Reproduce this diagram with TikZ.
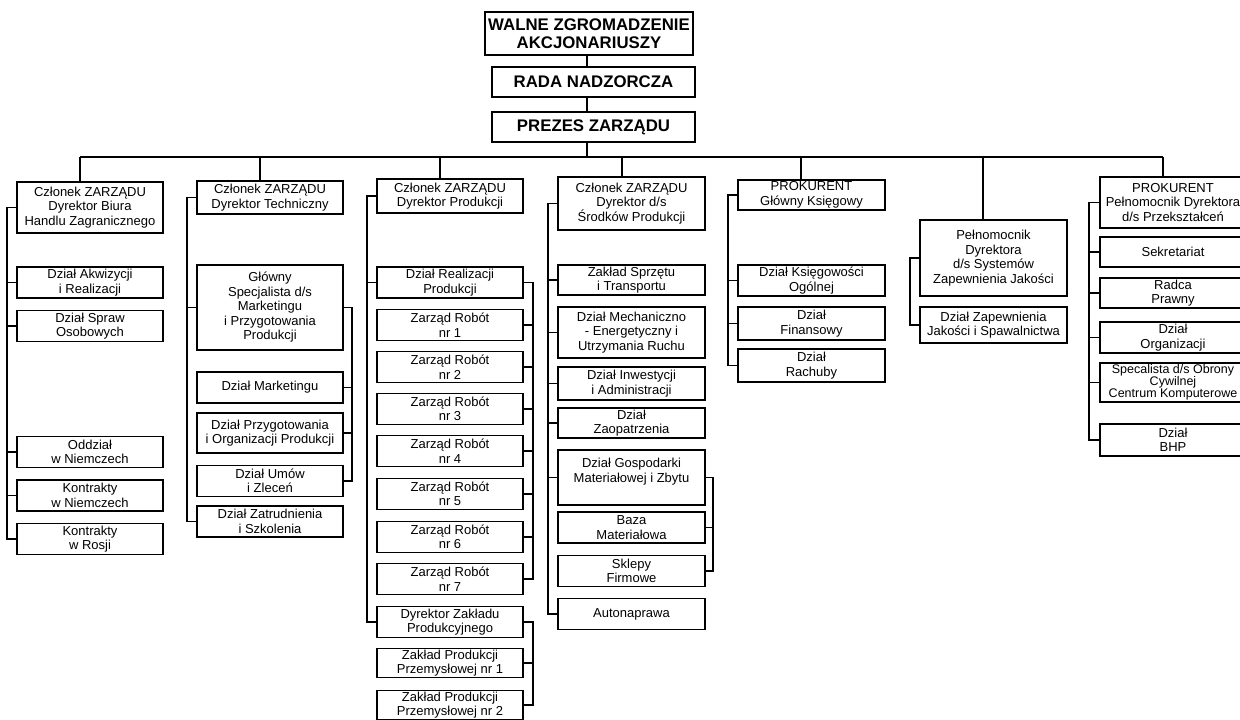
\documentclass[tikz,border=0pt]{standalone}
\usepackage{fontspec}
\setmainfont{Liberation Sans}

\begin{document}
\begin{tikzpicture}[x=1pt, y=-1pt,
    box/.style={rectangle, draw, line width=1.2pt, minimum width=146pt,
                minimum height=31pt, inner sep=1pt, align=center,
                font=\fontsize{13}{14.5}\selectfont},
    topbox/.style={rectangle, draw, line width=1.4pt, inner sep=1pt,
                   align=center, font=\bfseries\fontsize{16.8}{18}\selectfont},
    link/.style={line width=1.1pt}
  ]
    \useasboundingbox (0,0) rectangle (1240,720);
    \clip (0,0) rectangle (1240,720);

    % Board
    \node[topbox, minimum width=208pt, minimum height=43pt] (walne) at (589,33.5)
      {WALNE ZGROMADZENIE\\AKCJONARIUSZY};
    \node[topbox, minimum width=203pt, minimum height=30pt] (rada) at (593.5,82)
      {RADA NADZORCZA};
    \node[topbox, line width=2.2pt, minimum width=203pt, minimum height=30pt] (prezes) at (593.5,127)
      {PREZES ZARZĄDU};

    % Bus and its stems
    \coordinate (bus) at (587,157);
    \coordinate (b1) at (80,157);
    \coordinate (b2) at (260,157);
    \coordinate (b3) at (440,157);
    \coordinate (b4) at (622,157);
    \coordinate (b5) at (801,157);
    \coordinate (b6) at (983,157);
    \coordinate (b7) at (1163,157);

    % Column 1: Handel Zagraniczny
    \node[box, minimum height=51pt] (c1h) at (90,207.5)
      {Członek ZARZĄDU\\Dyrektor Biura\\Handlu Zagranicznego};
    \node[box] (c1a) at (90,282.5) {Dział Akwizycji\\i Realizacji};
    \node[box] (c1b) at (90,326)   {Dział Spraw\\Osobowych};
    \node[box] (c1c) at (90,452)   {Oddział\\w Niemczech};
    \node[box] (c1d) at (90,495.5) {Kontrakty\\w Niemczech};
    \node[box] (c1e) at (90,539)   {Kontrakty\\w Rosji};

    % Column 2: Dyrektor Techniczny
    \node[box, minimum height=33pt] (c2h) at (270,197.5)
      {Członek ZARZĄDU\\Dyrektor Techniczny};
    \node[box, minimum height=85pt] (c2a) at (270,307.5)
      {Główny\\Specjalista d/s\\Marketingu\\i Przygotowania\\Produkcji};
    \node[box] (c2b) at (270,387.5) {Dział Marketingu};
    \node[box, minimum height=40pt] (c2c) at (270,433)
      {Dział Przygotowania\\i Organizacji Produkcji};
    \node[box] (c2d) at (270,481)   {Dział Umów\\i Zleceń};
    \node[box] (c2e) at (270,521.5) {Dział Zatrudnienia\\i Szkolenia};

    % Column 3: Dyrektor Produkcji
    \node[box, minimum height=34pt] (c3h) at (450,196)
      {Członek ZARZĄDU\\Dyrektor Produkcji};
    \node[box] (c3a) at (450,282.5) {Dział Realizacji\\Produkcji};
    \node[box] (r1) at (450,325)   {Zarząd Robót\\nr 1};
    \node[box] (r2) at (450,367)   {Zarząd Robót\\nr 2};
    \node[box] (r3) at (450,409)   {Zarząd Robót\\nr 3};
    \node[box] (r4) at (450,451)   {Zarząd Robót\\nr 4};
    \node[box] (r5) at (450,494)   {Zarząd Robót\\nr 5};
    \node[box] (r6) at (450,537)   {Zarząd Robót\\nr 6};
    \node[box] (r7) at (450,579)   {Zarząd Robót\\nr 7};
    \node[box] (c3b) at (450,622)  {Dyrektor Zakładu\\Produkcyjnego};
    \node[box, minimum height=28pt] (z1) at (450,663)
      {Zakład Produkcji\\Przemysłowej nr 1};
    \node[box, minimum height=28pt] (z2) at (450,705)
      {Zakład Produkcji\\Przemysłowej nr 2};

    % Column 4: Srodki Produkcji
    \node[box, minimum width=147pt, minimum height=53pt] (c4h) at (631.5,203.5)
      {Członek ZARZĄDU\\Dyrektor d/s\\Środków Produkcji};
    \node[box, minimum width=147pt, minimum height=30pt] (c4a) at (631.5,280)
      {Zakład Sprzętu\\i Transportu};
    \node[box, minimum width=147pt, minimum height=51pt] (c4b) at (631.5,332.5)
      {Dział Mechaniczno\\- Energetyczny i\\Utrzymania Ruchu};
    \node[box, minimum width=147pt, minimum height=33pt] (c4c) at (631.5,383.5)
      {Dział Inwestycji\\i Administracji};
    \node[box, minimum width=147pt, minimum height=30pt] (c4d) at (631.5,423)
      {Dział\\Zaopatrzenia};
    \node[box, minimum width=147pt, minimum height=55pt] (c4e) at (631.5,477.5)
      {Dział Gospodarki\\Materiałowej i Zbytu\\\mbox{}};
    \node[box, minimum width=147pt] (c4f) at (631.5,527.5) {Baza\\Materiałowa};
    \node[box, minimum width=147pt] (c4g) at (631.5,571)   {Sklepy\\Firmowe};
    \node[box, minimum width=147pt] (c4i) at (631.5,614)   {Autonaprawa};

    % Column 5: Glowny Ksiegowy
    \node[box, minimum width=147pt, minimum height=30pt] (c5h) at (811.5,195)
      {PROKURENT\\Główny Księgowy};
    \node[box, minimum width=147pt] (c5a) at (811.5,280.5) {Dział Księgowości\\Ogólnej};
    \node[box, minimum width=147pt, minimum height=33pt] (c5b) at (811.5,323.5) {Dział\\Finansowy};
    \node[box, minimum width=147pt, minimum height=33pt] (c5c) at (811.5,365.5) {Dział\\Rachuby};

    % Column 6: Jakosc
    \node[box, minimum width=147pt, minimum height=76pt] (c6h) at (993.5,258)
      {Pełnomocnik\\Dyrektora\\d/s Systemów\\Zapewnienia Jakości};
    \node[box, minimum width=147pt, minimum height=36pt] (c6a) at (993.5,325)
      {Dział Zapewnienia\\Jakości i Spawalnictwa};

    % Column 7: Przeksztalcenia
    \node[box, minimum height=51pt] (c7h) at (1173,202.5)
      {PROKURENT\\Pełnomocnik Dyrektora\\d/s Przekształceń};
    \node[box, minimum height=30pt] (c7a) at (1173,252)   {Sekretariat};
    \node[box, minimum height=30pt] (c7b) at (1173,293)   {Radca\\Prawny};
    \node[box] (c7c) at (1173,337.5) {Dział\\Organizacji};
    \node[box, minimum height=39pt, font=\fontsize{12.5}{12}\selectfont] (c7d) at (1173,382.5)
      {Specalista d/s Obrony\\Cywilnej\\Centrum Komputerowe};
    \node[box, minimum height=32pt] (c7e) at (1173,440) {Dział\\BHP};

    % Board links and bus
    \draw[link] (bus |- walne.south) -- (bus |- rada.north)
                (bus |- rada.south) -- (bus |- prezes.north)
                (bus |- prezes.south) -- (bus);
    \draw[link] (b1) -- (b7);
    \draw[link] (b1) -- (b1 |- c1h.north) (b2) -- (b2 |- c2h.north)
                (b3) -- (b3 |- c3h.north) (b4) -- (b4 |- c4h.north)
                (b5) -- (b5 |- c5h.north) (b6) -- (b6 |- c6h.north)
                (b7) -- (b7 |- c7h.north);

    % Left spines
    \coordinate (s1) at (7,0);
    \coordinate (s2) at (187,0);
    \coordinate (s3) at (367,0);
    \coordinate (s4) at (548,0);
    \coordinate (s5) at (728,0);
    \coordinate (s6) at (910,0);
    \coordinate (s7) at (1089,0);
    \draw[link] (c1h.west) -| (s1 |- c1e.west) -- (c1e.west);
    \draw[link] (s1 |- c1a.west) -- (c1a.west) (s1 |- c1b.west) -- (c1b.west)
                (s1 |- c1c.west) -- (c1c.west) (s1 |- c1d.west) -- (c1d.west);
    \draw[link] (c2h.west) -| (s2 |- c2e.west) -- (c2e.west);
    \draw[link] (s2 |- c2a.west) -- (c2a.west);
    \draw[link] (c3h.west) -| (s3 |- c3b.west) -- (c3b.west);
    \draw[link] (s3 |- c3a.west) -- (c3a.west);
    \draw[link] (c4h.west) -| (s4 |- c4i.west) -- (c4i.west);
    \draw[link] (s4 |- c4a.west) -- (c4a.west) (s4 |- c4b.west) -- (c4b.west)
                (s4 |- c4c.west) -- (c4c.west) (s4 |- c4d.west) -- (c4d.west)
                (s4 |- c4e.west) -- (c4e.west);
    \draw[link] (c5h.west) -| (s5 |- c5c.west) -- (c5c.west);
    \draw[link] (s5 |- c5a.west) -- (c5a.west) (s5 |- c5b.west) -- (c5b.west);
    \draw[link] (c6h.west) -| (s6 |- c6a.west) -- (c6a.west);
    \draw[link] (c7h.west) -| (s7 |- c7e.west) -- (c7e.west);
    \draw[link] (s7 |- c7a.west) -- (c7a.west) (s7 |- c7b.west) -- (c7b.west)
                (s7 |- c7c.west) -- (c7c.west) (s7 |- c7d.west) -- (c7d.west);

    % Right brackets
    \coordinate (t2) at (352,0);
    \coordinate (t3) at (533,0);
    \coordinate (t4) at (713,0);
    \draw[link] (c2a.east) -| (t2 |- c2d.east) -- (c2d.east);
    \draw[link] (t2 |- c2b.east) -- (c2b.east) (t2 |- c2c.east) -- (c2c.east);
    \draw[link] (c3a.east) -| (t3 |- r7.east) -- (r7.east);
    \draw[link] (t3 |- r1.east) -- (r1.east) (t3 |- r2.east) -- (r2.east)
                (t3 |- r3.east) -- (r3.east) (t3 |- r4.east) -- (r4.east)
                (t3 |- r5.east) -- (r5.east) (t3 |- r6.east) -- (r6.east);
    \draw[link] (c3b.east) -| (t3 |- z2.east) -- (z2.east);
    \draw[link] (t3 |- z1.east) -- (z1.east);
    \draw[link] (c4e.east) -| (t4 |- c4g.east) -- (c4g.east);
    \draw[link] (t4 |- c4f.east) -- (c4f.east);
  \end{tikzpicture}
\end{document}
